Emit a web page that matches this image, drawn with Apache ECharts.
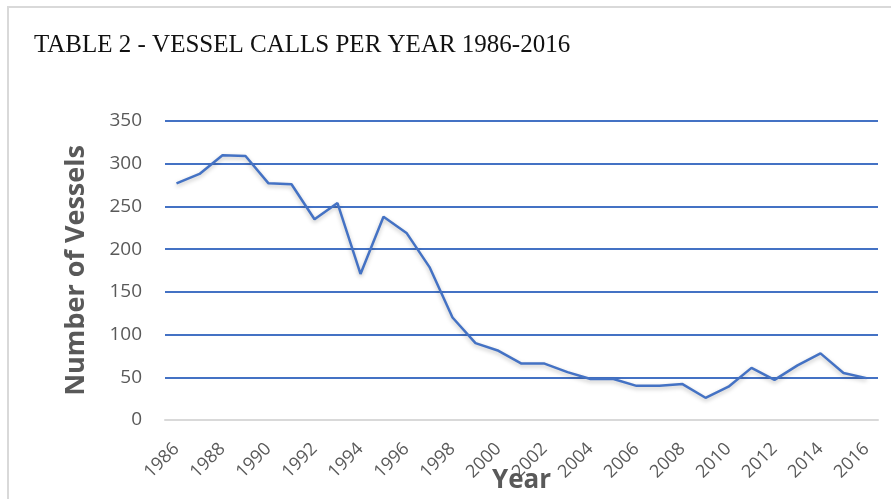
<!DOCTYPE html>
<html>
<head>
<meta charset="utf-8">
<script src="https://cdn.jsdelivr.net/npm/echarts@6/dist/echarts.min.js"></script>
<style>
  html, body { margin: 0; padding: 0; background: #fff; }
  #main { width: 891px; height: 499px; }
</style>
</head>
<body>
<div id="main"></div>
<script>
// data
var years = ['1986','1987','1988','1989','1990','1991','1992','1993','1994','1995',
             '1996','1997','1998','1999','2000','2001','2002','2003','2004','2005',
             '2006','2007','2008','2009','2010','2011','2012','2013','2014','2015','2016'];
var vessels = [277, 288, 310, 309, 277, 276, 235, 254, 171, 238,
               219, 179, 120, 90, 81, 66, 66, 56, 48, 48,
               40, 40, 42, 26, 39, 61, 47, 64, 78, 55, 49];

var chart = echarts.init(document.getElementById('main'));

var option = {
    backgroundColor: '#fff',
    graphic: [{
        type: 'rect',
        shape: { x: 8, y: 7, width: 900, height: 520 },
        style: { fill: 'none', stroke: '#d9d9d9', lineWidth: 2 },
        silent: true
    }, {
        type: 'text',
        left: 34,
        top: 33,
        style: {
            text: 'TABLE 2 - VESSEL CALLS PER YEAR 1986-2016',
            font: '25px "Liberation Serif"',
            fill: '#111'
        },
        silent: true
    }],
    grid: { left: 165, right: 13, top: 121, bottom: 79, outerBoundsMode: 'none' },
    xAxis: {
        type: 'category',
        data: years,
        boundaryGap: true,
        name: 'Year',
        nameLocation: 'middle',
        nameGap: 48,
        nameMoveOverlap: false,
        nameTextStyle: { fontFamily: 'Open Sans', fontWeight: 'bold', fontSize: 26, color: '#595959' },
        axisLine: { lineStyle: { color: '#d9d9d9', width: 2 } },
        axisTick: { show: false },
        axisLabel: {
            interval: 1,
            rotate: 45,
            margin: 26,
            fontFamily: 'Open Sans',
            fontSize: 18,
            color: '#595959'
        }
    },
    yAxis: {
        type: 'value',
        min: 0,
        max: 350,
        interval: 50,
        name: 'Number of Vessels',
        nameLocation: 'middle',
        nameGap: 75,
        nameTextStyle: { fontFamily: 'Open Sans', fontWeight: 'bold', fontSize: 27, color: '#595959' },
        axisLine: { show: false },
        axisTick: { show: false },
        axisLabel: { margin: 23, fontFamily: 'Open Sans', fontSize: 19, color: '#595959' },
        splitLine: { lineStyle: { color: '#4472C4', width: 2 } }
    },
    series: [{
        name: 'Vessels',
        type: 'line',
        data: vessels,
        showSymbol: false,
        lineStyle: {
            color: '#4472C4',
            width: 2.5,
            shadowColor: 'rgba(0,0,0,0.25)',
            shadowBlur: 4,
            shadowOffsetY: 2
        },
        itemStyle: { color: '#4472C4' },
        animation: false
    }]
};

chart.setOption(option);
</script>
</body>
</html>
